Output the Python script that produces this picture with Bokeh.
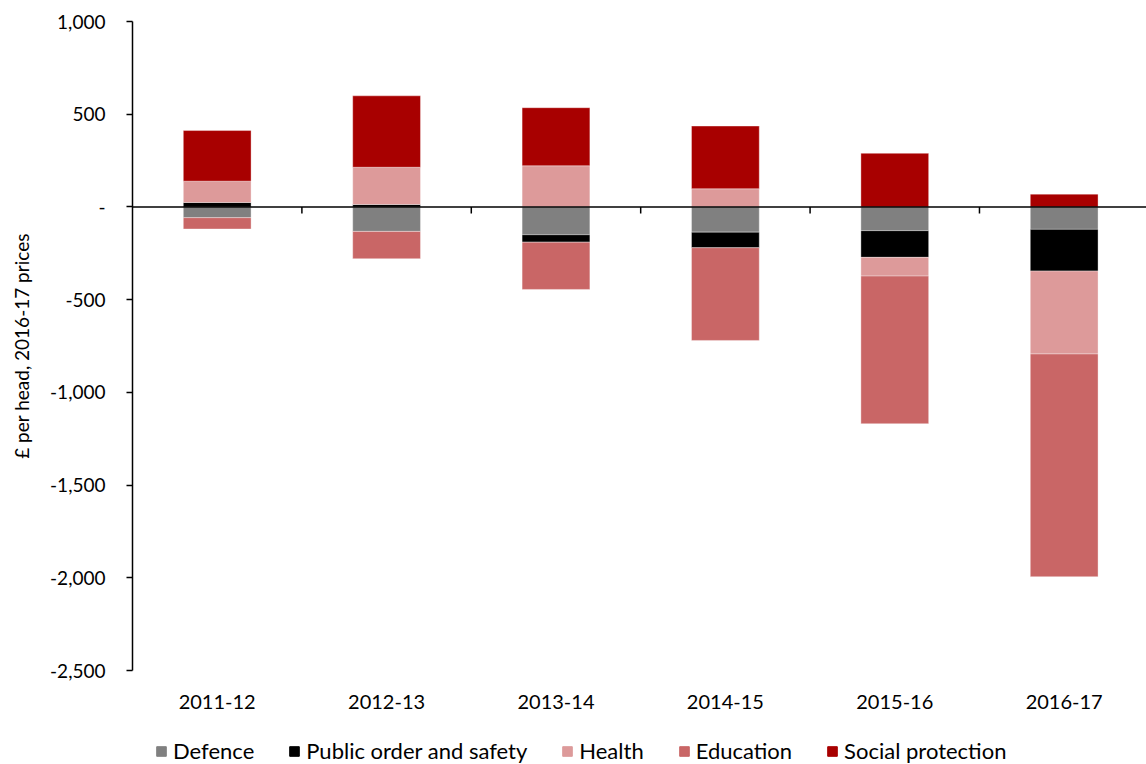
from bokeh.plotting import figure
from bokeh.layouts import column
from bokeh.models import Range1d, FixedTicker, Span, Legend, LegendItem, NumeralTickFormatter
from bokeh.embed import file_html
from bokeh.resources import INLINE

years = ["2011-12", "2012-13", "2013-14", "2014-15", "2015-16", "2016-17"]
defence = [-58, -132, -150, -136, -128, -121]
public_order = [24, 13, -40, -84, -144, -225]
health = [115, 201, 222, 98, -101, -447]
education = [-61, -147, -255, -500, -796, -1201]
social_protection = [273, 385, 313, 338, 289, 69]

series_names = ["Defence", "Public order and safety", "Health", "Education", "Social protection"]
series_values = [defence, public_order, health, education, social_protection]
colors = ["#808080", "#000000", "#DD9A9A", "#C96666", "#A80000"]
y_ticks = [-2500, -2000, -1500, -1000, -500, 0, 500, 1000]

FONT = "Lato"
n = len(years)
xs = [i + 0.5 for i in range(n)]

p = figure(frame_width=1014, frame_height=649, output_backend="svg", toolbar_location=None,
           x_range=Range1d(0, n - 0.014), y_range=Range1d(-2500, 1000),
           min_border_left=132, min_border_right=0, min_border_top=21, min_border_bottom=50)
p.outline_line_color = None
p.grid.visible = False
p.background_fill_color = "white"
p.border_fill_color = "white"

pos = [0.0] * n
neg = [0.0] * n
for name, vals, col in zip(series_names, series_values, colors):
    bottoms, tops = [], []
    for i, v in enumerate(vals):
        if v >= 0:
            bottoms.append(pos[i]); tops.append(pos[i] + v); pos[i] += v
        else:
            tops.append(neg[i]); bottoms.append(neg[i] + v); neg[i] += v
    p.vbar(x=xs, bottom=bottoms, top=tops, width=0.4, fill_color=col,
           line_color="white", line_alpha=0.35, line_width=1)

p.add_layout(Span(location=0, dimension="width", line_color="black", line_width=1.6))
bx = list(range(1, n))
p.segment(x0=bx, x1=bx, y0=[0] * len(bx), y1=[-35] * len(bx), line_color="black", line_width=1.5)

ya = p.yaxis[0]
ya.ticker = FixedTicker(ticks=y_ticks)
ya.formatter = NumeralTickFormatter(format="0,0")
ya.major_label_overrides = {0: "-"}
ya.minor_tick_line_color = None
ya.major_tick_in = 0
ya.major_tick_out = 6
ya.axis_line_width = 1.5
ya.major_tick_line_width = 1.5
ya.axis_line_color = "black"
ya.major_label_text_font = FONT
ya.major_label_text_font_size = "19px"
ya.major_label_text_color = "black"
ya.major_label_standoff = 21
ya.axis_label = "£ per head, 2016-17 prices"
ya.axis_label_text_font = FONT
ya.axis_label_text_font_size = "19px"
ya.axis_label_text_font_style = "normal"
ya.axis_label_text_color = "black"
ya.axis_label_standoff = 14

xa = p.xaxis[0]
xa.ticker = FixedTicker(ticks=xs)
xa.major_label_overrides = {x: y for x, y in zip(xs, years)}
xa.axis_line_color = None
xa.major_tick_line_color = None
xa.minor_tick_line_color = None
xa.major_label_text_font = FONT
xa.major_label_text_font_size = "20px"
xa.major_label_text_color = "black"
xa.major_label_standoff = 18

# legend strip (swatch renderers sit outside the visible range)
lg = figure(frame_width=1014, frame_height=44, output_backend="svg", toolbar_location=None,
            x_axis_type=None, y_axis_type=None, x_range=Range1d(0, 1), y_range=Range1d(0, 1),
            min_border_left=132, min_border_right=0, min_border_top=0, min_border_bottom=0)
lg.outline_line_color = None
lg.grid.visible = False
items = []
for name, col in zip(series_names, colors):
    r = lg.vbar(x=[-5], bottom=[-5], top=[-4], width=0.4, fill_color=col, line_color=col)
    items.append(LegendItem(label=name, renderers=[r]))
legend = Legend(items=items, orientation="horizontal", location=(23, 0),
                border_line_color=None, background_fill_alpha=0,
                glyph_width=12, glyph_height=12, label_standoff=6, spacing=34,
                padding=0, margin=0,
                label_text_font=FONT, label_text_font_size="22px", label_text_color="black")
lg.add_layout(legend, "center")

layout = column(p, lg, spacing=0)
open("out.html", "w").write(file_html(layout, INLINE))
